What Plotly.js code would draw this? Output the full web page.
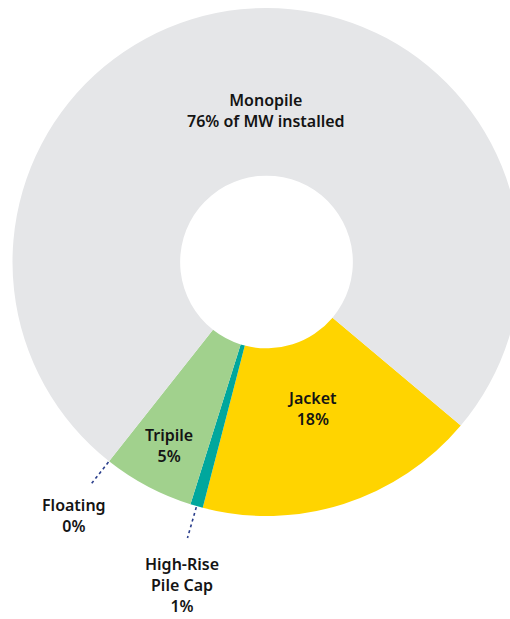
<!DOCTYPE html>
<html><head><meta charset="utf-8">
<script src="https://cdn.plot.ly/plotly-3.0.1.min.js"></script>
<style>
html,body{margin:0;padding:0;overflow:hidden;background:#fff;width:510px;height:619px}
#chart{width:533px;height:619px}
</style>
</head><body><div id="chart"></div>
<script>
// Data (share of MW installed, %), drawn clockwise starting with Jacket
const categories = ['Jacket', 'High-Rise Pile Cap', 'Tripile', 'Floating', 'Monopile'];
const shares = [17.9, 0.8, 5.8, 0, 75.5];
const labelTexts = ['Jacket<br>18%', 'High-Rise<br>Pile Cap<br>1%', 'Tripile<br>5%', 'Floating<br>0%', 'Monopile<br>76% of MW installed'];
const sliceColors = ['#ffd400', '#00a79d', '#a1d18d', '#1f3c88', '#e5e6e8'];

// Geometry (pixels)
const W = 533, H = 619;
const CX = 266.5, CY = 262, R = 254;
const ROTATION = 130.1;

// label centre positions (pixels)
const labelPos = [[312, 408], [182, 585], [169, 446], [74, 515], [266, 111]];

const total = shares.reduce((a, b) => a + b, 0);
function angleAt(i, frac) {
  let s = 0;
  for (let k = 0; k < i; k++) s += shares[k];
  s += shares[i] * frac;
  return (ROTATION + s / total * 360) * Math.PI / 180;
}
function px(r, a) { return [CX + r * Math.sin(a), CY - r * Math.cos(a)]; }
const toPX = x => x / W, toPY = y => 1 - y / H;

// leader lines for outside labels: [slice index, fraction within slice, r0, r1]
const leaders = [[1, 0.5, 255, 287], [3, 0, 255, 283]];
const shapes = leaders.map(([i, f, r0, r1]) => {
  const a = angleAt(i, f);
  const p0 = px(r0, a), p1 = px(r1, a);
  return {type: 'line', xref: 'paper', yref: 'paper',
    x0: toPX(p0[0]), y0: toPY(p0[1]), x1: toPX(p1[0]), y1: toPY(p1[1]),
    line: {color: '#2b3f8c', width: 1.6, dash: 'dot'}};
});

const annotations = labelTexts.map((t, i) => ({
  text: t, xref: 'paper', yref: 'paper', x: toPX(labelPos[i][0]), y: toPY(labelPos[i][1]),
  xanchor: 'center', yanchor: 'middle', align: 'center', showarrow: false,
  font: {family: 'Noto Sans, sans-serif', size: 16, color: '#141414', weight: 600}
}));

const trace = {
  type: 'pie', labels: categories, values: shares, sort: false, direction: 'clockwise',
  rotation: ROTATION, hole: 0.34, textinfo: 'none', hoverinfo: 'skip',
  marker: {colors: sliceColors, line: {width: 0}},
  domain: {x: [0, 1], y: [toPY(CY + R), toPY(CY - R)]}, showlegend: false
};

Plotly.newPlot('chart', [trace], {
  width: W, height: H, margin: {l: 0, r: 0, t: 0, b: 0},
  paper_bgcolor: '#fff', plot_bgcolor: '#fff', showlegend: false,
  shapes: shapes, annotations: annotations
}, {displayModeBar: false, staticPlot: true});
</script>
</body></html>
